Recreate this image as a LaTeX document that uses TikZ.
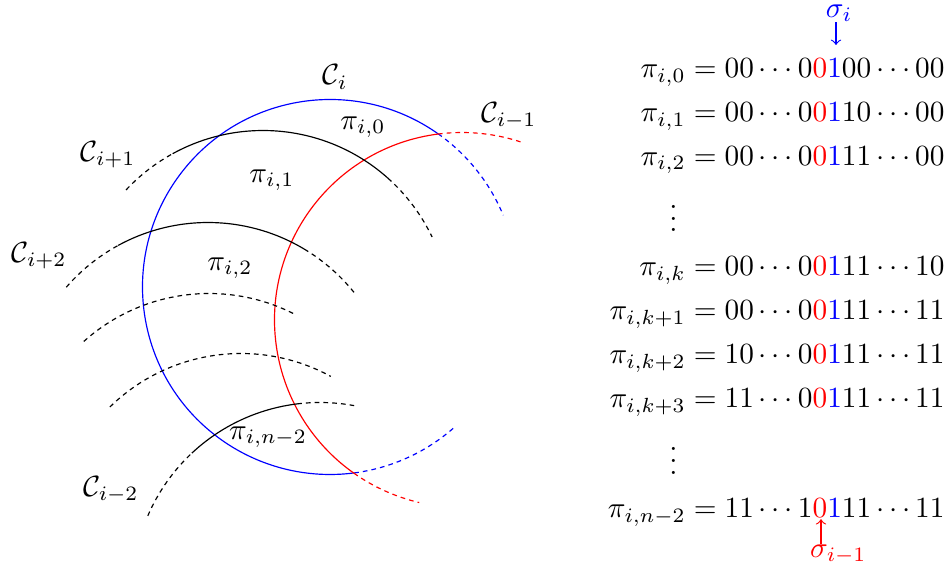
\documentclass[tikz,border=0pt]{standalone}
\usepackage{amsmath}
\newcommand{\crad}{2.25}
\newcommand{\pibits}[2]{#1{\color{red}0}{\color{blue}1}#2}

\begin{document}
\begin{tikzpicture}[every node/.style={inner sep=1pt}]
\tikzset{
  faint/.style={dash pattern=on 1.6pt off 1.4pt},
  sarr/.style={->}
}
  \useasboundingbox (0,0) rectangle (11.424,6.84);

  % centres of the circles
  \coordinate (cim) at (5.544,3.0);
  \coordinate (ci) at (3.96,3.396);
  \coordinate (cip) at (3.156,3.024);
  \coordinate (cipp) at (2.496,1.92);
  \coordinate (cthree) at (2.508,1.068);
  \coordinate (cfour) at (2.892,0.348);
  \coordinate (cimm) at (3.84,-0.24);

  % C_i and C_{i-1}
  \draw[blue] (ci) ++(54.8:\crad) arc[start angle=54.8, end angle=277.4, radius=\crad];
  \draw[blue,faint] (ci) ++(54.8:\crad) arc[start angle=54.8, end angle=22.5, radius=\crad];
  \draw[blue,faint] (ci) ++(277.4:\crad) arc[start angle=277.4, end angle=311.1, radius=\crad];
  \draw[red] (cim) ++(97.4:\crad) arc[start angle=97.4, end angle=234.8, radius=\crad];
  \draw[red,faint] (cim) ++(97.4:\crad) arc[start angle=97.4, end angle=70.7, radius=\crad];
  \draw[red,faint] (cim) ++(234.8:\crad) arc[start angle=234.8, end angle=256.8, radius=\crad];

  % the other circles
  \draw[faint] (cip) ++(136.9:\crad) arc[start angle=136.9, end angle=118.8, radius=\crad];
  \draw (cip) ++(118.8:\crad) arc[start angle=118.8, end angle=48.2, radius=\crad];
  \draw[faint] (cip) ++(48.2:\crad) arc[start angle=48.2, end angle=25.6, radius=\crad];
  \draw[faint] (cipp) ++(139.1:\crad) arc[start angle=139.1, end angle=118.6, radius=\crad];
  \draw (cipp) ++(118.6:\crad) arc[start angle=118.6, end angle=59.1, radius=\crad];
  \draw[faint] (cipp) ++(59.1:\crad) arc[start angle=59.1, end angle=37.8, radius=\crad];
  \draw[faint] (cthree) ++(131.9:\crad) arc[start angle=131.9, end angle=63.0, radius=\crad];
  \draw[faint] (cfour) ++(134.4:\crad) arc[start angle=134.4, end angle=61.4, radius=\crad];
  \draw[faint] (cimm) ++(156.7:\crad) arc[start angle=156.7, end angle=133.1, radius=\crad];
  \draw (cimm) ++(133.1:\crad) arc[start angle=133.1, end angle=97.0, radius=\crad];
  \draw[faint] (cimm) ++(97.0:\crad) arc[start angle=97.0, end angle=79.5, radius=\crad];

  % circle names
  \node (lci) at (4.02,5.916) {$\mathcal{C}_i$};
  \node (lcim) at (6.108,5.448) {$\mathcal{C}_{i-1}$};
  \node (lcip) at (1.296,4.98) {$\mathcal{C}_{i+1}$};
  \node (lcipp) at (0.468,3.768) {$\mathcal{C}_{i+2}$};
  \node (lcimm) at (1.332,0.96) {$\mathcal{C}_{i-2}$};

  % regions
  \node (pzero) at (4.356,5.316) {$\pi_{i,0}$};
  \node (pone) at (3.264,4.68) {$\pi_{i,1}$};
  \node (ptwo) at (2.76,3.624) {$\pi_{i,2}$};
  \node (plast) at (3.216,1.596) {$\pi_{i,n-2}$};

  % the words
  \node[anchor=north east, inner sep=0pt] (rows) at (11.34,6.21) {$\begin{aligned}
    \pi_{i,0} &= 00\cdots\pibits{0}{00}\cdots00\\
    \pi_{i,1} &= 00\cdots\pibits{0}{10}\cdots00\\
    \pi_{i,2} &= 00\cdots\pibits{0}{11}\cdots00\\
    \vdots\;&\\
    \pi_{i,k} &= 00\cdots\pibits{0}{11}\cdots10\\
    \pi_{i,k+1} &= 00\cdots\pibits{0}{11}\cdots11\\
    \pi_{i,k+2} &= 10\cdots\pibits{0}{11}\cdots11\\
    \pi_{i,k+3} &= 11\cdots\pibits{0}{11}\cdots11\\
    \vdots\;&\\
    \pi_{i,n-2} &= 11\cdots\pibits{1}{11}\cdots11
  \end{aligned}$};

  \node[anchor=base, text=blue, inner sep=0pt] (si) at (10.07,6.63) {$\sigma_i$};
  \coordinate (tipi) at (10.032,6.30);
  \draw[sarr, blue] (si.south -| tipi) -- (tipi);
  \node[anchor=base, text=red, inner sep=0pt] (sim) at (10.06,0.15) {$\sigma_{i-1}$};
  \coordinate (tipm) at (9.852,0.61);
  \draw[sarr, red] (sim.north -| tipm) -- (tipm);
\end{tikzpicture}
\end{document}
